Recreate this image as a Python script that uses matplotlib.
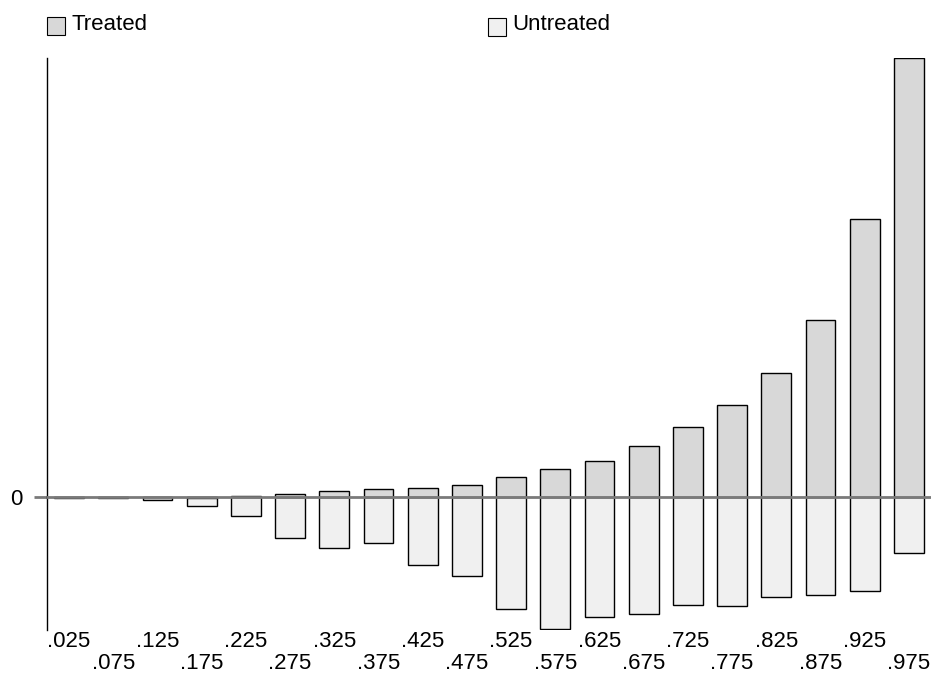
import numpy as np
import matplotlib
matplotlib.use("Agg")
import matplotlib.pyplot as plt
from matplotlib.patches import Rectangle

plt.rcParams['font.family'] = ['Liberation Sans', 'DejaVu Sans']

# quantiles and the two series
quantiles = [".025", ".075", ".125", ".175", ".225", ".275", ".325", ".375", ".425", ".475",
             ".525", ".575", ".625", ".675", ".725", ".775", ".825", ".875", ".925", ".975"]
treated = [0.4, 0.4, -3.0, -1.0, 1.5, 3.4, 6.4, 8.7, 9.7, 12.7,
           20.0, 28.4, 36.4, 51.7, 70.0, 92.3, 124.3, 177.7, 278.7, 439.7]
untreated = [-0.4, -0.4, -1.0, -8.5, -18.6, -41.3, -51.0, -46.3, -67.6, -79.0,
             -111.5, -132.3, -120.0, -116.5, -108.0, -109.3, -99.7, -98.3, -94.0, -56.3]

col_treated = '#d8d8d8'
col_untreated = '#f0f0f0'
fs = 16

fig = plt.figure(figsize=(9.33, 6.75), dpi=100)
ax = fig.add_axes([47/933, 45/675, 884/933, 572/675])

x = np.arange(len(quantiles))
ax.bar(x, untreated, width=0.67, color=col_untreated, edgecolor='black', linewidth=1.0, zorder=2)
ax.bar(x, treated, width=0.67, color=col_treated, edgecolor='black', linewidth=1.0, zorder=3)
ax.axhline(0, color='#7a7a7a', linewidth=2, zorder=4)

ax.set_xlim(-0.5, len(quantiles) - 0.5)
ax.set_ylim(-133, 440)

for s in ['top', 'right', 'bottom']:
    ax.spines[s].set_visible(False)
ax.spines['left'].set_linewidth(1.0)

ax.set_yticks([0])
ax.set_yticklabels(['0'], fontsize=fs)
ax.tick_params(axis='y', length=9.5, width=2, color='#7a7a7a', pad=8)

# stagger the quantile labels on two rows
labels = [q if i % 2 == 0 else '\n' + q for i, q in enumerate(quantiles)]
ax.set_xticks(x)
ax.set_xticklabels(labels, fontsize=fs, linespacing=1.05)
ax.tick_params(axis='x', length=0, pad=1)

# legend keys along the top
fig.add_artist(Rectangle((47/933, 1 - 35/675), 18/933, 18/675, transform=fig.transFigure,
                         facecolor=col_treated, edgecolor='black', linewidth=0.8))
fig.text(72/933, 1 - 25/675, 'Treated', fontsize=fs, va='center', ha='left')
fig.add_artist(Rectangle((488/933, 1 - 36/675), 18/933, 18/675, transform=fig.transFigure,
                         facecolor=col_untreated, edgecolor='black', linewidth=0.8))
fig.text(512/933, 1 - 25/675, 'Untreated', fontsize=fs, va='center', ha='left')

fig.savefig('out.png', dpi=100)
